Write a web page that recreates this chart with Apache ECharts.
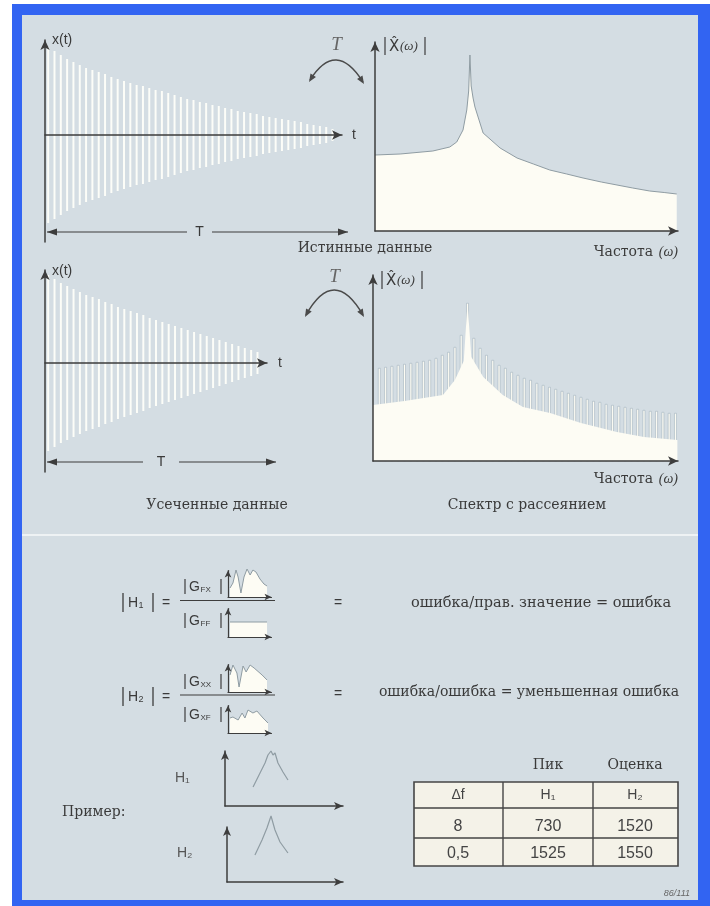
<!DOCTYPE html>
<html><head><meta charset="utf-8">
<script src="https://cdn.jsdelivr.net/npm/echarts@6/dist/echarts.min.js"></script>
<style>html,body{margin:0;padding:0;background:#fff}#c{width:710px;height:906px}</style>
</head><body><div id="c"></div>
<script>
// ---------------- DATA ----------------
// time-signal sample indices (categories) and envelope amplitudes of the white strokes
const trueSamples = Array.from({length: 47}, (_, i) => String(i + 1));
const trueSignalAmp = [88,84,80,76,73,70,67,65,63,61,58,56,54,52,50,49,47,45,44,42,40,38,36,35,33,32,30,29,27,26,24,23,22,21,19,18,17,16,15,14,13,11,10,9,8,6];
const truncSamples = Array.from({length: 35}, (_, i) => String(i + 1));
const truncSignalAmp = [88,84,80,77,74,71,68,66,64,61,59,56,54,52,50,48,45,43,41,39,37,35,33,31,29,27,25,23,21,19,17,15,13,11];

// true spectrum |X(ω)|
const trueSpecFreq = [0, 4.0, 9.2, 11.9, 13.0, 14.0, 14.6, 14.9, 15.1, 15.3, 15.6, 15.9, 17.2, 19.9, 22.6, 25.2, 27.8, 30.5, 33.1, 36.0, 38.5, 41.0, 43.7, 46.0, 48.0];
const trueSpecMag  = [76, 77, 80, 84, 89, 101, 121, 140, 176, 145, 133, 124, 98, 83, 73, 67, 61, 57, 53, 49, 46, 43, 40, 38.5, 37];

// leakage spectrum: solid base + comb of spikes
const leakBaseFreq = [0, 5, 11.1, 13.0, 14.4, 15.0, 15.6, 17.5, 20.6, 23.8, 28.1, 33.0, 38.7, 43.0, 48.3];
const leakBaseMag  = [56, 60, 66, 81, 100, 158, 104, 84, 66, 54, 48, 38, 29, 24, 21];
const leakSpikeBin = [1,2,3,4,5,6,7,8,9,10,11,12,13,14,15,16,17,18,19,20,21,22,23,24,25,26,27,28,29,30,31,32,33,34,35,36,37,38,39,40,41,42,43,44,45,46,47,48];
const leakSpikeMag = [93,94,95,96,97,98,99,100,101,103,106,109,114,126,158,123,113,106,101,96,93,89,86,83,81,78,76,74,72,70,68,66,64,62,60,59,57,56,55,54,53,52,51,50,50,49,48,48];

// small spectra in the formulas
const gFxFreq = [0.85, 2.1, 3.4, 4.3, 5.5, 6.8, 8.1, 9.4, 10.6, 11.9, 13.6, 15.3, 16.6];
const gFxMag  = [9, 14, 27, 20, 4, 20, 28, 22, 27, 25, 18, 13, 11];
const gFfFreq = [0.85, 16.6];
const gFfMag  = [15, 15];
const gXxFreq = [0.85, 2.1, 3.8, 4.7, 6.4, 7.7, 9.4, 11.1, 14.5, 16.6];
const gXxMag  = [17, 27, 19, 5, 26, 20, 27, 24, 17, 12];
const gXfFreq = [0.85, 2.1, 4.3, 6.0, 7.2, 8.5, 10.6, 12.3, 14.9, 17.0];
const gXfMag  = [15, 16, 13, 20, 15, 23, 20, 22, 15, 10];

// example estimates H1, H2
const h1Freq = [23, 28.7, 32.8, 35.2, 37.7, 39.3, 41, 43.4, 47.5, 51.6];
const h1Mag  = [19, 33, 43, 51, 55, 51, 53, 43, 34, 26];
const h2Freq = [23.3, 29.2, 33.3, 36.7, 40, 44.2, 50.8];
const h2Mag  = [27, 42, 54, 66, 52, 40, 29];

// table
const tableTopLabels = ['Пик', 'Оценка'];
const tableHeader = ['Δf', 'H₁', 'H₂'];
const tableRows = [['8', '730', '1520'], ['0,5', '1525', '1550']];

// texts
const labelTrue = 'Истинные данные';
const labelTrunc = 'Усеченные данные';
const labelLeak = 'Спектр с рассеянием';
const labelFreq = 'Частота';
const labelExample = 'Пример:';
const textH1 = 'ошибка/прав. значение = ошибка';
const textH2 = 'ошибка/ошибка = уменьшенная ошибка';

// ---------------- STYLE ----------------
const AX = '#3d3d3d', TXT = '#3a3a3a', FILL = '#fdfcf4', SIG = 'rgba(255,255,250,0.92)', CURVE = '#8f9ca3';
const SANS = 'Liberation Sans, Arial, sans-serif', SERIF = 'DejaVu Serif, Liberation Serif, serif', ISERIF = 'Liberation Serif, serif';
const zip = (a, b) => a.map((v, i) => [v, b[i]]);

function axLine(size, w) {
  return {show: true, onZero: true, symbol: ['none', 'arrow'], symbolSize: size || [7, 10], lineStyle: {color: AX, width: w || 1.5}};
}
const hid = {z: 10, axisTick: {show: false}, axisLabel: {show: false}, splitLine: {show: false}};
function vAx(gi, min, max, size, w) { return Object.assign({type: 'value', gridIndex: gi, min, max, axisLine: axLine(size, w)}, hid); }
function cAx(gi, data) { return Object.assign({type: 'category', gridIndex: gi, data, boundaryGap: true, axisLine: axLine()}, hid); }

const grids = [
  {left: 45, top: 40, width: 297, height: 202},
  {left: 375, top: 42, width: 303, height: 189},
  {left: 45, top: 270, width: 222, height: 202},
  {left: 373, top: 275, width: 305, height: 186},
  {left: 228, top: 570.5, width: 43.5, height: 26.5},
  {left: 228, top: 608.5, width: 43.5, height: 28.5},
  {left: 228, top: 664.5, width: 43.5, height: 27.5},
  {left: 228, top: 705.5, width: 43.5, height: 27.5},
  {left: 225, top: 751, width: 118, height: 55},
  {left: 227, top: 827, width: 116, height: 55}
];
const small = [5, 7];
const xAxes = [
  cAx(0, trueSamples), vAx(1, 0, 48.2), cAx(2, truncSamples), vAx(3, 0, 48.4),
  vAx(4, 0, 18.5, small, 1.2), vAx(5, 0, 18.5, small, 1.2), vAx(6, 0, 18.5, small, 1.2), vAx(7, 0, 18.5, small, 1.2),
  vAx(8, 0, 96.7, [6, 9]), vAx(9, 0, 96.7, [6, 9])
];
const yAxes = [
  vAx(0, -107, 95), vAx(1, 0, 189), vAx(2, -109, 93), vAx(3, 0, 186),
  vAx(4, 0, 26.5, small, 1.2), vAx(5, 0, 28.5, small, 1.2), vAx(6, 0, 27.5, small, 1.2), vAx(7, 0, 27.5, small, 1.2),
  vAx(8, 0, 55, [6, 9]), vAx(9, 0, 55, [6, 9])
];

function strokeBars(idx, amp) {
  return [
    {type: 'bar', xAxisIndex: idx, yAxisIndex: idx, data: amp, barWidth: 2, barGap: '-100%', itemStyle: {color: SIG}, silent: true},
    {type: 'bar', xAxisIndex: idx, yAxisIndex: idx, data: amp.map(v => -v), barWidth: 2, barGap: '-100%', itemStyle: {color: SIG}, silent: true}
  ];
}
function miniArea(idx, f, m) {
  return {type: 'line', xAxisIndex: idx, yAxisIndex: idx, data: zip(f, m), symbol: 'none', clip: false,
    lineStyle: {color: CURVE, width: 1}, areaStyle: {color: FILL, opacity: 1}, silent: true};
}
const series = [
  ...strokeBars(0, trueSignalAmp),
  {type: 'line', xAxisIndex: 1, yAxisIndex: 1, data: zip(trueSpecFreq, trueSpecMag), symbol: 'none',
    lineStyle: {color: CURVE, width: 1}, areaStyle: {color: FILL, opacity: 1}, silent: true},
  ...strokeBars(2, truncSignalAmp),
  {type: 'bar', xAxisIndex: 3, yAxisIndex: 3, z: 2, data: zip(leakSpikeBin, leakSpikeMag), barWidth: 2.6,
    itemStyle: {color: FILL, borderColor: 'rgba(140,160,176,0.75)', borderWidth: 0.6}, silent: true},
  {type: 'line', xAxisIndex: 3, yAxisIndex: 3, z: 3, data: zip(leakBaseFreq, leakBaseMag), symbol: 'none',
    lineStyle: {width: 0, color: FILL}, areaStyle: {color: FILL, opacity: 1}, silent: true},
  miniArea(4, gFxFreq, gFxMag), miniArea(5, gFfFreq, gFfMag), miniArea(6, gXxFreq, gXxMag), miniArea(7, gXfFreq, gXfMag),
  {type: 'line', xAxisIndex: 8, yAxisIndex: 8, data: zip(h1Freq, h1Mag), symbol: 'none', clip: false, lineStyle: {color: CURVE, width: 1.2}, silent: true},
  {type: 'line', xAxisIndex: 9, yAxisIndex: 9, data: zip(h2Freq, h2Mag), symbol: 'none', clip: false, lineStyle: {color: CURVE, width: 1.2}, silent: true}
];

// ---------------- GRAPHIC ----------------
const G = [];
function txt(x, y, text, font, opt) {
  opt = opt || {};
  G.push({type: 'text', x, y, z: 100, silent: true, style: {text, font, fill: opt.fill || TXT,
    align: opt.align || 'left', verticalAlign: 'middle', textAlign: opt.align || 'left', textVerticalAlign: 'middle'}});
}
function ln(x1, y1, x2, y2, w, c, z) {
  G.push({type: 'line', z: z === undefined ? 100 : z, silent: true, shape: {x1, y1, x2, y2}, style: {stroke: c || AX, lineWidth: w || 1.3}});
}
function poly(points, c) { G.push({type: 'polygon', z: 100, silent: true, shape: {points}, style: {fill: c || AX}}); }
function arrowHead(px, py, cx, cy, len, half, c) {
  const dx = px - cx, dy = py - cy, L = Math.hypot(dx, dy), ux = dx / L, uy = dy / L;
  const bx = px - ux * len, by = py - uy * len;
  poly([[px, py], [bx - uy * half, by + ux * half], [bx + uy * half, by - ux * half]], c);
}
function transformArrow(x1, y1, cx, cy, x2, y2, ty) {
  G.push({type: 'bezierCurve', z: 100, silent: true, shape: {x1, y1, x2, y2, cpx1: cx, cpy1: cy}, style: {stroke: '#4a4a4a', lineWidth: 1.4, fill: 'none'}});
  arrowHead(x1 - 1, y1 + 2, cx, cy, 8, 3.2, '#4a4a4a');
  arrowHead(x2 + 1, y2 + 2, cx, cy, 8, 3.2, '#4a4a4a');
  txt((x1 + x2) / 2, ty, 'T', 'italic 19px ' + ISERIF, {align: 'center', fill: '#666'});
}
function tArrow(xl, xr, y, gl, gr) {
  ln(xl, y, gl, y, 1.2); ln(gr, y, xr, y, 1.2);
  poly([[xl, y], [xl + 10, y - 3.5], [xl + 10, y + 3.5]]);
  poly([[xr, y], [xr - 10, y - 3.5], [xr - 10, y + 3.5]]);
  txt((gl + gr) / 2, y, 'T', '14px ' + SANS, {align: 'center'});
}
function absX(x, y, h) { // |X̂(ω)|
  ln(x, y - h / 2, x, y + h / 2, 1.2);
  txt(x + 4, y + 1, 'X̂', '15px DejaVu Sans, ' + SANS);
  txt(x + 15, y + 1, '(ω)', 'italic 13px ' + ISERIF);
  ln(x + 40, y - h / 2, x + 40, y + h / 2, 1.2);
}
function absG(y, sub) { // |G_sub|
  ln(185, y - 8, 185, y + 7, 1.2);
  txt(189, y, 'G', '14px ' + SANS);
  txt(200.5, y + 3, sub, '8px ' + SANS);
  ln(221, y - 8, 221, y + 7, 1.2);
}
function absH(y, sub) {
  ln(123, y - 10, 123, y + 9, 1.3);
  txt(128, y, 'H', '14px ' + SANS);
  txt(138.5, y + 3, sub, '9px ' + SANS);
  ln(153, y - 10, 153, y + 9, 1.3);
  txt(166, y, '=', '14px ' + SANS, {align: 'center'});
}

// background frame & panel
G.push({type: 'rect', z: -110, silent: true, shape: {x: 0, y: 0, width: 710, height: 906}, style: {fill: '#ffffff'}});
G.push({type: 'rect', z: -105, silent: true, shape: {x: 12, y: 4, width: 698, height: 902}, style: {fill: '#3264f2'}});
G.push({type: 'rect', z: -100, silent: true, shape: {x: 22, y: 15, width: 676, height: 885}, style: {fill: '#d4dde3'}});
ln(22, 535, 698, 535, 2, '#eef2f4', -99);

// top & middle labels
txt(52, 40, 'x(t)', '14px ' + SANS);
txt(352, 135, 't', '14px ' + SANS);
tArrow(47, 348, 232, 187, 212);
txt(52, 271, 'x(t)', '14px ' + SANS);
txt(278, 363, 't', '14px ' + SANS);
tArrow(47, 276, 462, 143, 179);
absX(385, 46, 18);
absX(382, 280, 18);
transformArrow(310, 80, 336, 39, 363, 82, 45);
transformArrow(306, 315, 334, 265, 363, 315, 277);
txt(365, 248, labelTrue, '14px ' + SERIF, {align: 'center'});
txt(217, 505, labelTrunc, '14px ' + SERIF, {align: 'center'});
txt(527, 505, labelLeak, '14px ' + SERIF, {align: 'center'});
[[252], [479]].forEach(([y]) => {
  txt(653, y, labelFreq, '14px ' + SERIF, {align: 'right'});
  txt(678, y, '(ω)', 'italic 14px ' + ISERIF, {align: 'right'});
});

// formulas
absH(603, '1');
ln(180, 600.5, 275, 600.5, 1.2);
absG(587, 'FX');
absG(621, 'FF');
absH(697, '2');
ln(180, 695, 275, 695, 1.2);
absG(682, 'XX');
absG(715, 'XF');
txt(338, 603, '=', '14px ' + SANS, {align: 'center'});
txt(338, 694, '=', '14px ' + SANS, {align: 'center'});
txt(541, 603, textH1, '14.5px ' + SERIF, {align: 'center'});
txt(529, 692, textH2, '14px ' + SERIF, {align: 'center'});

// example
txt(62, 812, labelExample, '14px ' + SERIF);
txt(175, 778, 'H₁', '14px ' + SANS, {fill: '#555'});
txt(177, 853, 'H₂', '14px ' + SANS, {fill: '#555'});

// table
const colX = [414, 503, 593, 678], rowY = [782, 808, 838, 866];
const colC = [458, 548, 635], rowC = [795, 827, 854];
G.push({type: 'rect', z: 90, silent: true, shape: {x: colX[0], y: rowY[0], width: colX[3] - colX[0], height: rowY[3] - rowY[0]},
  style: {fill: '#f4f2e8', stroke: '#454545', lineWidth: 1.6}});
ln(colX[0], rowY[1], colX[3], rowY[1], 1.6, '#454545');
ln(colX[0], rowY[2], colX[3], rowY[2], 1.4, '#454545');
ln(colX[1], rowY[0], colX[1], rowY[3], 1.4, '#454545');
ln(colX[2], rowY[0], colX[2], rowY[3], 1.4, '#454545');
txt(colC[1], 765, tableTopLabels[0], '14px ' + SERIF, {align: 'center'});
txt(colC[2], 765, tableTopLabels[1], '14px ' + SERIF, {align: 'center'});
tableHeader.forEach((h, i) => txt(colC[i], rowC[0], h, '14px ' + SANS, {align: 'center', fill: '#444'}));
tableRows.forEach((r, j) => r.forEach((v, i) => txt(colC[i], rowC[j + 1], v, '16px ' + SANS, {align: 'center', fill: '#444'})));
txt(690, 893, '86/111', 'italic 9px ' + SANS, {align: 'right', fill: '#666'});

const chart = echarts.init(document.getElementById('c'), null, {renderer: 'canvas'});
chart.setOption({
  animation: false,
  backgroundColor: 'transparent',
  grid: grids,
  xAxis: xAxes,
  yAxis: yAxes,
  series,
  graphic: {elements: G}
});
</script>
</body></html>
